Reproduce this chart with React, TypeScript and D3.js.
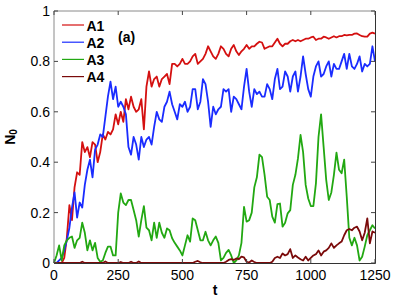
import React from 'react';
import * as d3 from 'd3';

const T_STEP = 10;
const X_TICKS = [0, 250, 500, 750, 1000, 1250];
const Y_TICKS = [0, 0.2, 0.4, 0.6, 0.8, 1];
const Y_TICK_LABELS = ['0', '0.2', '0.4', '0.6', '0.8', '1'];
const SERIES_NAMES = ['A1', 'A2', 'A3', 'A4'];
const SERIES_COLORS = ['#d41010', '#1a2cff', '#22a812', '#7a0a0a'];

const A1 = [
  0, 0, 0, 0, 0.02,
  0.10, 0.23, 0.17, 0.30, 0.36,
  0.35, 0.48, 0.44, 0.46, 0.42,
  0.48, 0.47, 0.40, 0.44, 0.51,
  0.49, 0.52, 0.51, 0.53, 0.59,
  0.55, 0.60, 0.56, 0.65, 0.61,
  0.66, 0.62, 0.60, 0.61, 0.65,
  0.53, 0.70, 0.76, 0.70, 0.73,
  0.74, 0.70, 0.73, 0.74, 0.75,
  0.71, 0.79, 0.79, 0.78, 0.79,
  0.81, 0.79, 0.79, 0.80, 0.82,
  0.83, 0.79, 0.80, 0.81, 0.83,
  0.86, 0.84, 0.82, 0.81, 0.83,
  0.86, 0.85, 0.83, 0.82, 0.85,
  0.865, 0.84, 0.825, 0.84, 0.85,
  0.865, 0.85, 0.86, 0.86, 0.87,
  0.878, 0.875, 0.85, 0.855, 0.86,
  0.86, 0.875, 0.89, 0.87, 0.86,
  0.87, 0.87, 0.88, 0.885, 0.88,
  0.885, 0.88, 0.885, 0.89, 0.89,
  0.895, 0.898, 0.885, 0.89, 0.89,
  0.898, 0.895, 0.89, 0.895, 0.90,
  0.895, 0.90, 0.90, 0.905, 0.903,
  0.905, 0.905, 0.91, 0.911, 0.905,
  0.90, 0.898, 0.898, 0.91, 0.914,
  0.91,
];

const A2 = [
  0, 0, 0.01, 0.02, 0.05,
  0.09, 0.14, 0.22, 0.28, 0.18,
  0.24, 0.22, 0.31, 0.37, 0.41,
  0.34, 0.45, 0.47, 0.51, 0.50,
  0.58, 0.66, 0.72, 0.65, 0.70,
  0.62, 0.64, 0.62, 0.59, 0.46,
  0.43, 0.50, 0.47, 0.41, 0.50,
  0.46, 0.49, 0.50, 0.47, 0.54,
  0.60, 0.57, 0.56, 0.62, 0.64,
  0.68, 0.63, 0.60, 0.57, 0.63,
  0.62, 0.64, 0.60, 0.62, 0.69,
  0.69, 0.61, 0.64, 0.73, 0.71,
  0.64, 0.54, 0.62, 0.59, 0.61,
  0.62, 0.69, 0.68, 0.69, 0.60,
  0.66, 0.65, 0.63, 0.61, 0.70,
  0.77, 0.68, 0.62, 0.69, 0.67,
  0.68, 0.66, 0.66, 0.71, 0.69,
  0.65, 0.73, 0.77, 0.69, 0.70,
  0.76, 0.74, 0.68, 0.74, 0.76,
  0.68, 0.74, 0.82, 0.75, 0.69,
  0.66, 0.74, 0.78, 0.80, 0.74,
  0.75, 0.78, 0.80, 0.74, 0.79,
  0.77, 0.77, 0.80, 0.83, 0.77,
  0.83, 0.78, 0.77, 0.79, 0.82,
  0.76, 0.79, 0.78, 0.79, 0.86,
  0.80,
];

const A3 = [
  0, 0.03, 0.07, 0.01, 0.07,
  0.09, 0.10, 0.105, 0.06, 0.09,
  0.10, 0.16, 0.12, 0.05, 0.09,
  0.05, 0.08, 0.02, 0.005, 0.01,
  0.04, 0.065, 0.065, 0.03, 0.03,
  0.20, 0.276, 0.24, 0.23, 0.25,
  0.25, 0.21, 0.17, 0.105, 0.17,
  0.226, 0.14, 0.13, 0.09, 0.16,
  0.10, 0.16, 0.12, 0.10, 0.137,
  0.13, 0.098, 0.08, 0.065, 0.05,
  0.03, 0.07, 0.11, 0.085, 0.177,
  0.17, 0.13, 0.09, 0.09, 0.124,
  0.09, 0.07, 0.09, 0.105, 0.08,
  0.01, 0.02, 0.04, 0.052, 0.03,
  0.00, 0.01, 0.03, 0.08, 0.223,
  0.164, 0.17, 0.20, 0.30, 0.34,
  0.43, 0.42, 0.35, 0.263, 0.25,
  0.184, 0.16, 0.234, 0.236, 0.144,
  0.16, 0.197, 0.21, 0.31, 0.35,
  0.415, 0.508, 0.44, 0.31, 0.256,
  0.226, 0.226, 0.316, 0.50, 0.59,
  0.46, 0.33, 0.25, 0.28, 0.35,
  0.438, 0.37, 0.356, 0.41, 0.263,
  0.10, 0.07, 0.10, 0.07, 0.01,
  0.025, 0.065, 0.11, 0.13, 0.15,
  0.137,
];

const A4 = [
  0, 0, 0, 0, 0, 0, 0, 0, 0, 0,
  0, 0.005, 0, 0, 0, 0, 0, 0, 0, 0,
  0.006, 0, 0, 0, 0, 0, 0.004, 0, 0, 0,
  0.005, 0, 0, 0.006, 0, 0, 0, 0, 0, 0,
  0, 0, 0, 0, 0, 0, 0, 0, 0, 0,
  0, 0, 0, 0, 0, 0.005, 0.008, 0.003, 0, 0,
  0, 0, 0, 0, 0, 0, 0, 0.005, 0.012, 0.015,
  0.012, 0.018, 0.015, 0.025, 0.022, 0.005, 0.002, 0.01, 0.004, 0,
  0, 0, 0, 0, 0, 0.005, 0.02, 0.025, 0.02, 0.038,
  0.03, 0.035, 0.055, 0.02, 0.03, 0.022, 0.015, 0.01, 0.025, 0.01,
  0.02, 0.03, 0.035, 0.05, 0.03, 0.045, 0.05, 0.06, 0.078, 0.06,
  0.07, 0.078, 0.085, 0.11, 0.13, 0.135, 0.13, 0.14, 0.144, 0.125,
  0.09, 0.12, 0.177, 0.078, 0.125, 0.12,
];

const SERIES = [A1, A2, A3, A4];

const W = 396;
const H = 300;
const L = 54;
const R = 375;
const TOP = 11;
const BOT = 263;
const FONT = '"Liberation Sans", Arial, Helvetica, sans-serif';

export default function App() {
  const x = d3.scaleLinear().domain([0, 1250]).range([L, R]);
  const y = d3.scaleLinear().domain([0, 1]).range([BOT, TOP]);
  const line = d3
    .line<number>()
    .x((_, i) => x(i * T_STEP))
    .y((d) => y(d));
  const tickLen = 4;

  return (
    <svg
      width={W}
      height={H}
      style={{ position: 'absolute', left: 0, top: 0, background: '#fff' }}
      fontFamily={FONT}
    >
      <rect x={0} y={0} width={W} height={H} fill="#fff" />
      {SERIES.map((s, k) => (
        <path
          key={k}
          d={line(s) || ''}
          fill="none"
          stroke={SERIES_COLORS[k]}
          strokeWidth={1.8}
          strokeLinejoin="round"
        />
      ))}
      {/* frame */}
      <line x1={L} x2={L} y1={TOP} y2={BOT} stroke="#8a8a8a" strokeWidth={1} />
      <line x1={L} x2={R} y1={TOP} y2={TOP} stroke="#8a8a8a" strokeWidth={1} />
      <line x1={R + 0.5} x2={R + 0.5} y1={TOP} y2={BOT + 0.5} stroke="#333" strokeWidth={1} />
      <line x1={L} x2={R + 0.5} y1={BOT + 0.5} y2={BOT + 0.5} stroke="#333" strokeWidth={1} />
      {/* x ticks */}
      {X_TICKS.map((t) => (
        <g key={'x' + t}>
          <line x1={x(t)} x2={x(t)} y1={BOT} y2={BOT - tickLen} stroke="#444" />
          <line x1={x(t)} x2={x(t)} y1={TOP} y2={TOP + tickLen} stroke="#444" />
          <text x={x(t)} y={280} textAnchor="middle" fontSize={14} fill="#000">
            {t}
          </text>
        </g>
      ))}
      {/* y ticks */}
      {Y_TICKS.map((v, i) => (
        <g key={'y' + v}>
          <line x1={L} x2={L + tickLen} y1={y(v)} y2={y(v)} stroke="#444" />
          <line x1={R} x2={R - tickLen} y1={y(v)} y2={y(v)} stroke="#444" />
          <text x={50} y={y(v) + 5} textAnchor="end" fontSize={14} fill="#000">
            {Y_TICK_LABELS[i]}
          </text>
        </g>
      ))}
      {/* axis labels */}
      <text x={215} y={295} textAnchor="middle" fontSize={14} fontWeight="bold" fill="#000">
        t
      </text>
      <text
        transform="translate(15,137) rotate(-90)"
        textAnchor="middle"
        fontSize={14}
        fontWeight="bold"
        fill="#000"
      >
        N
        <tspan fontSize={10} dy={2}>
          0
        </tspan>
      </text>
      {/* legend */}
      {SERIES_NAMES.map((n, k) => {
        const ly = 25 + k * 17.2;
        return (
          <g key={n}>
            <line x1={62} x2={84} y1={ly} y2={ly} stroke={SERIES_COLORS[k]} strokeWidth={1.2} />
            <text x={86.5} y={ly + 5.5} fontSize={14} fontWeight="bold" fill="#000">
              {n}
            </text>
          </g>
        );
      })}
      <text x={118} y={42} fontSize={14} fontWeight="bold" fill="#000">
        (a)
      </text>
    </svg>
  );
}
